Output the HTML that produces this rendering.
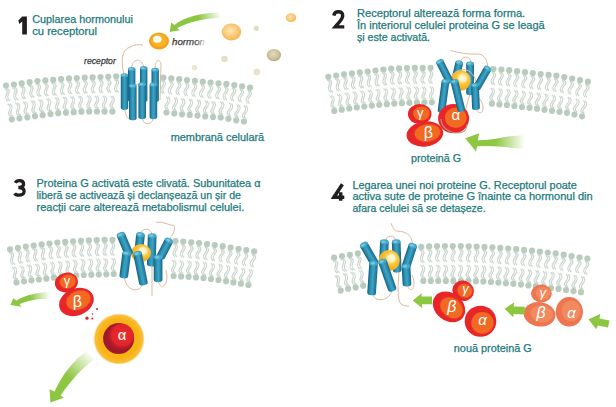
<!DOCTYPE html><html><head><meta charset="utf-8"><style>
html,body{margin:0;padding:0;background:#fff;width:616px;height:407px;overflow:hidden}
svg{display:block;font-family:"Liberation Sans",sans-serif}
</style></head><body>
<svg width="616" height="407" viewBox="0 0 616 407">
<defs>
<linearGradient id="cg" x1="0" x2="1" y1="0" y2="0">
<stop offset="0" stop-color="#15607f"/><stop offset="0.3" stop-color="#2b93b6"/><stop offset="0.55" stop-color="#3ea3c4"/><stop offset="1" stop-color="#17698a"/>
</linearGradient>
<radialGradient id="hg" cx="0.45" cy="0.4" r="0.6">
<stop offset="0" stop-color="#fff6c8"/><stop offset="0.45" stop-color="#f8c531"/><stop offset="1" stop-color="#eea313"/>
</radialGradient>
<radialGradient id="og" cx="0.6" cy="0.4" r="0.65" fx="0.6" fy="0.38">
<stop offset="0" stop-color="#fffdf0"/><stop offset="0.22" stop-color="#fff3c4"/><stop offset="0.45" stop-color="#fbc63a"/><stop offset="1" stop-color="#eea012"/>
</radialGradient>
<radialGradient id="pog" cx="0.45" cy="0.42" r="0.6">
<stop offset="0" stop-color="#fde7b5"/><stop offset="0.6" stop-color="#fac977"/><stop offset="1" stop-color="#f6b24e"/>
</radialGradient>
<radialGradient id="gbg" cx="0.45" cy="0.42" r="0.6">
<stop offset="0" stop-color="#e3dcc4"/><stop offset="0.6" stop-color="#cdc29f"/><stop offset="1" stop-color="#b3a57f"/>
</radialGradient>
<radialGradient id="glow" cx="0.5" cy="0.5" r="0.5">
<stop offset="0.75" stop-color="#f8b417"/><stop offset="0.92" stop-color="#f9be3a"/><stop offset="1" stop-color="#fde3a0" stop-opacity="0"/>
</radialGradient>
<linearGradient id="f1" gradientUnits="userSpaceOnUse" x1="172" y1="26" x2="221" y2="15">
<stop offset="0" stop-color="#8dc641"/><stop offset="0.55" stop-color="#8dc641"/><stop offset="1" stop-color="#8dc641" stop-opacity="0"/>
</linearGradient>
<linearGradient id="f2" gradientUnits="userSpaceOnUse" x1="466" y1="142" x2="525" y2="142">
<stop offset="0" stop-color="#8dc641"/><stop offset="0.5" stop-color="#8dc641"/><stop offset="1" stop-color="#8dc641" stop-opacity="0"/>
</linearGradient>
<linearGradient id="f3" gradientUnits="userSpaceOnUse" x1="11" y1="302" x2="50" y2="295">
<stop offset="0" stop-color="#8dc641"/><stop offset="0.5" stop-color="#8dc641"/><stop offset="1" stop-color="#8dc641" stop-opacity="0"/>
</linearGradient>
<linearGradient id="f4" gradientUnits="userSpaceOnUse" x1="52" y1="398" x2="92" y2="354">
<stop offset="0" stop-color="#8dc641"/><stop offset="0.45" stop-color="#8dc641"/><stop offset="1" stop-color="#8dc641" stop-opacity="0"/>
</linearGradient>
<radialGradient id="rg" cx="0.55" cy="0.45" r="0.5"><stop offset="0" stop-color="#f0582a"/><stop offset="0.3" stop-color="#e8292a"/><stop offset="0.82" stop-color="#e2242a"/><stop offset="1" stop-color="#c01f2b" stop-opacity="0.5"/></radialGradient>
<filter id="bl" x="-20%" y="-20%" width="140%" height="140%"><feGaussianBlur stdDeviation="0.6"/></filter>
</defs>

<path d="M4.6,88.7 C11.9,91.8 0.9,96.7 8.2,101.1 M6.6,88.4 C13.8,91.5 2.9,96.5 10.2,100.9 M12.5,87.7 C19.7,90.8 8.8,95.7 16.1,100.1 M14.5,87.4 C21.7,90.5 10.8,95.5 18.1,99.9 M20.4,86.7 C27.7,89.6 16.8,94.8 24.2,99.0 M22.4,86.4 C29.7,89.3 18.8,94.5 26.2,98.8 M28.3,85.4 C35.7,88.3 24.9,93.6 32.3,97.7 M30.3,85.1 C37.6,88.0 26.9,93.3 34.3,97.4 M36.0,84.1 C43.2,87.4 32.1,92.1 39.4,96.6 M38.0,83.9 C45.2,87.2 34.1,91.9 41.4,96.4 M43.8,83.5 C50.8,87.0 39.6,91.3 46.6,96.2 M45.8,83.4 C52.8,86.9 41.6,91.2 48.6,96.0 M51.7,83.0 C58.8,86.4 47.6,90.9 54.7,95.6 M53.7,82.8 C60.8,86.2 49.6,90.7 56.7,95.4 M59.6,82.3 C66.7,85.6 55.6,90.2 62.8,94.8 M61.6,82.1 C68.7,85.4 57.6,90.0 64.8,94.6 M67.4,81.5 C74.4,85.0 63.2,89.3 70.2,94.1 M69.4,81.4 C76.4,84.9 65.2,89.2 72.2,94.0 M75.2,81.1 C82.1,84.8 70.8,88.8 77.7,93.8 M77.2,81.0 C84.1,84.7 72.8,88.7 79.7,93.7 M83.0,80.8 C90.0,84.5 78.6,88.5 85.5,93.5 M85.0,80.7 C92.0,84.4 80.6,88.4 87.5,93.4 M90.9,80.5 C97.8,84.2 86.5,88.1 93.4,93.2 M92.9,80.4 C99.8,84.1 88.5,88.1 95.4,93.1 M98.8,80.2 C105.7,83.9 94.4,87.9 101.3,92.9 M100.8,80.1 C107.7,83.8 96.4,87.8 103.3,92.8 M106.7,79.8 C113.6,83.5 102.3,87.5 109.2,92.5 M108.7,79.8 C115.6,83.4 104.3,87.5 111.2,92.4 M114.4,79.4 C121.3,83.4 109.8,87.0 116.6,92.2 M116.4,79.4 C123.3,83.3 111.8,87.0 118.6,92.2 M161.4,80.6 C168.0,85.0 156.3,87.8 162.7,93.5 M163.4,80.7 C170.0,85.1 158.3,87.9 164.7,93.6 M169.2,81.3 C175.6,85.9 163.8,88.3 170.0,94.2 M171.2,81.4 C177.6,86.1 165.8,88.5 172.0,94.4 M177.1,82.0 C183.4,86.7 171.7,89.0 177.8,94.9 M179.1,82.2 C185.4,86.9 173.6,89.2 179.8,95.1 M184.9,82.8 C191.3,87.5 179.5,89.8 185.6,95.7 M186.9,83.0 C193.3,87.7 181.5,90.0 187.6,95.9 M192.8,83.6 C199.1,88.3 187.3,90.6 193.4,96.5 M194.8,83.8 C201.1,88.5 189.3,90.8 195.4,96.8 M200.6,84.5 C206.9,89.2 195.1,91.4 201.2,97.4 M202.6,84.7 C208.9,89.5 197.1,91.6 203.2,97.7 M208.6,85.4 C214.9,90.1 203.2,92.4 209.3,98.3 M210.6,85.6 C216.9,90.3 205.1,92.6 211.3,98.5 M216.5,86.1 C222.9,90.6 211.2,93.2 217.4,99.0 M218.5,86.3 C224.9,90.8 213.2,93.3 219.4,99.2 M224.2,86.7 C230.5,91.5 218.7,93.6 224.7,99.6 M226.2,86.9 C232.5,91.7 220.7,93.8 226.7,99.9 M232.0,87.8 C238.1,92.8 226.2,94.5 232.1,100.8 M234.0,88.1 C240.1,93.1 228.2,94.8 234.0,101.1 M239.9,89.0 C245.9,94.0 234.0,95.6 239.8,101.9 M241.8,89.3 C247.9,94.4 236.0,96.0 241.7,102.3 M247.7,90.3 C253.7,95.5 241.8,96.9 247.5,103.3 M249.7,90.7 C255.7,95.8 243.8,97.3 249.4,103.6 M13.2,116.1 C5.9,113.0 16.9,108.1 9.6,103.7 M11.2,116.4 C4.0,113.3 14.9,108.3 7.6,103.9 M20.9,115.1 C13.7,112.0 24.6,107.1 17.3,102.7 M19.0,115.4 C11.7,112.3 22.7,107.3 15.3,102.9 M28.7,114.1 C21.4,111.0 32.3,106.0 25.0,101.7 M26.7,114.3 C19.4,111.3 30.3,106.3 23.0,101.9 M36.4,113.0 C29.1,110.0 40.0,104.9 32.7,100.6 M34.4,113.3 C27.1,110.2 38.0,105.2 30.7,100.9 M44.1,111.9 C36.8,108.9 47.8,103.9 40.4,99.5 M42.1,112.2 C34.9,109.2 45.8,104.1 38.4,99.8 M51.9,110.9 C44.6,107.8 55.5,102.8 48.2,98.5 M49.9,111.2 C42.6,108.1 53.5,103.1 46.2,98.8 M59.8,110.1 C52.7,106.6 63.9,102.3 56.8,97.5 M57.8,110.3 C50.7,106.8 61.9,102.4 54.8,97.7 M67.6,109.6 C60.5,106.1 71.8,101.8 64.7,97.0 M65.6,109.7 C58.5,106.2 69.8,102.0 62.7,97.1 M75.3,109.1 C68.2,105.6 79.4,101.3 72.4,96.5 M73.3,109.2 C66.2,105.7 77.5,101.4 70.4,96.6 M83.0,108.6 C76.0,105.0 87.2,100.7 80.2,95.9 M81.0,108.7 C74.0,105.2 85.2,100.9 78.2,96.1 M91.0,108.4 C84.2,104.4 95.7,101.0 89.1,95.6 M89.0,108.4 C82.2,104.4 93.7,101.0 87.1,95.6 M98.7,108.5 C92.0,104.5 103.5,101.0 96.8,95.7 M96.7,108.5 C90.0,104.4 101.5,101.0 94.8,95.7 M106.5,108.6 C99.7,104.5 111.2,101.1 104.6,95.7 M104.5,108.5 C97.7,104.5 109.2,101.1 102.6,95.7 M114.2,108.6 C107.4,104.6 119.0,101.2 112.3,95.8 M112.2,108.6 C105.4,104.6 117.0,101.1 110.3,95.8 M168.7,109.7 C162.4,104.9 174.3,102.9 168.3,96.8 M166.7,109.5 C160.4,104.7 172.3,102.6 166.3,96.5 M176.4,110.7 C170.2,105.9 182.0,103.8 176.0,97.7 M174.4,110.4 C168.2,105.6 180.0,103.6 174.0,97.5 M184.1,111.4 C177.6,106.9 189.4,104.4 183.1,98.5 M182.1,111.3 C175.6,106.7 187.4,104.2 181.1,98.3 M191.8,112.0 C185.3,107.5 197.1,104.9 190.8,99.1 M189.8,111.9 C183.3,107.4 195.1,104.8 188.8,99.0 M199.6,112.8 C193.2,108.1 205.0,105.8 198.9,99.8 M197.6,112.6 C191.2,107.9 203.0,105.6 196.9,99.6 M207.3,113.6 C201.0,108.9 212.8,106.6 206.7,100.7 M205.3,113.4 C199.0,108.7 210.8,106.4 204.7,100.4 M214.9,114.2 C208.4,109.8 220.0,107.0 213.6,101.3 M212.9,114.1 C206.4,109.7 218.0,106.8 211.6,101.2 M222.8,114.6 C216.5,109.9 228.3,107.6 222.2,101.7 M220.8,114.4 C214.5,109.7 226.3,107.4 220.2,101.4 M230.8,116.2 C224.9,111.0 236.8,109.8 231.3,103.3 M228.8,115.8 C222.9,110.6 234.9,109.4 229.3,102.9 M238.4,117.7 C232.4,112.6 244.3,111.1 238.6,104.7 M236.5,117.3 C230.5,112.3 242.4,110.8 236.7,104.4 M246.1,118.8 C240.0,113.8 251.9,112.1 246.0,105.8 M244.1,118.5 C238.0,113.5 249.9,111.8 244.1,105.5" fill="none" stroke="#cad7cd" stroke-width="1.25" stroke-linejoin="round"/>
<g fill="#b9cbbd"><circle cx="6.0" cy="85.5" r="3.1"/><circle cx="13.9" cy="84.5" r="3.1"/><circle cx="21.7" cy="83.4" r="3.1"/><circle cx="29.6" cy="82.2" r="3.1"/><circle cx="37.5" cy="81.0" r="3.1"/><circle cx="45.4" cy="80.4" r="3.1"/><circle cx="53.2" cy="79.9" r="3.1"/><circle cx="61.1" cy="79.1" r="3.1"/><circle cx="69.0" cy="78.4" r="3.1"/><circle cx="76.8" cy="78.0" r="3.1"/><circle cx="84.7" cy="77.7" r="3.1"/><circle cx="92.6" cy="77.4" r="3.1"/><circle cx="100.5" cy="77.1" r="3.1"/><circle cx="108.3" cy="76.8" r="3.1"/><circle cx="116.2" cy="76.4" r="3.1"/><circle cx="163.4" cy="77.7" r="3.1"/><circle cx="171.3" cy="78.4" r="3.1"/><circle cx="179.2" cy="79.2" r="3.1"/><circle cx="187.0" cy="80.0" r="3.1"/><circle cx="194.9" cy="80.8" r="3.1"/><circle cx="202.8" cy="81.7" r="3.1"/><circle cx="210.6" cy="82.6" r="3.1"/><circle cx="218.5" cy="83.3" r="3.1"/><circle cx="226.4" cy="83.9" r="3.1"/><circle cx="234.3" cy="85.1" r="3.1"/><circle cx="242.1" cy="86.3" r="3.1"/><circle cx="250.0" cy="87.7" r="3.1"/><circle cx="11.8" cy="119.3" r="3.1"/><circle cx="19.5" cy="118.3" r="3.1"/><circle cx="27.3" cy="117.3" r="3.1"/><circle cx="35.0" cy="116.2" r="3.1"/><circle cx="42.7" cy="115.2" r="3.1"/><circle cx="50.5" cy="114.1" r="3.1"/><circle cx="58.2" cy="113.2" r="3.1"/><circle cx="66.0" cy="112.7" r="3.1"/><circle cx="73.7" cy="112.2" r="3.1"/><circle cx="81.4" cy="111.7" r="3.1"/><circle cx="89.2" cy="111.4" r="3.1"/><circle cx="96.9" cy="111.5" r="3.1"/><circle cx="104.6" cy="111.6" r="3.1"/><circle cx="112.4" cy="111.6" r="3.1"/><circle cx="166.5" cy="112.5" r="3.1"/><circle cx="174.3" cy="113.4" r="3.1"/><circle cx="182.0" cy="114.3" r="3.1"/><circle cx="189.7" cy="114.9" r="3.1"/><circle cx="197.5" cy="115.6" r="3.1"/><circle cx="205.2" cy="116.4" r="3.1"/><circle cx="213.0" cy="117.1" r="3.1"/><circle cx="220.7" cy="117.4" r="3.1"/><circle cx="228.4" cy="118.8" r="3.1"/><circle cx="236.2" cy="120.3" r="3.1"/><circle cx="243.9" cy="121.5" r="3.1"/></g>
<path d="M124,75 C121,62 121,50 130,47 C134,45 139,44 143,45" fill="none" stroke="#dfb99f" stroke-width="1"/>
<path d="M131.7,69 C131,58 143,57 143.7,68" fill="none" stroke="#dfb99f" stroke-width="1"/>
<path d="M155.2,70 C154,60 160,58 161,64 L160,100" fill="none" stroke="#dfb99f" stroke-width="1"/>
<path d="M124.5,107 C125,117 130,122 132.8,118" fill="none" stroke="#dfb99f" stroke-width="1"/>
<path d="M142.2,117 C142,126 153,126 153.4,117" fill="none" stroke="#dfb99f" stroke-width="1"/>
<g transform="translate(124.5,75.3) rotate(-0.0)"><path d="M-3.70,0 L-3.70,32.4 A3.70,2.07 0 0 0 3.70,32.4 L3.70,0 Z" fill="url(#cg)"/><ellipse cx="0" cy="0" rx="3.70" ry="2.07" fill="#45a9c9"/><ellipse cx="-0.8" cy="0" rx="1.85" ry="1.04" fill="#7cc6de"/></g>
<g transform="translate(131.7,69.0) rotate(-0.0)"><path d="M-3.70,0 L-3.70,31.0 A3.70,2.07 0 0 0 3.70,31.0 L3.70,0 Z" fill="url(#cg)"/><ellipse cx="0" cy="0" rx="3.70" ry="2.07" fill="#45a9c9"/><ellipse cx="-0.8" cy="0" rx="1.85" ry="1.04" fill="#7cc6de"/></g>
<g transform="translate(143.7,68.0) rotate(-0.0)"><path d="M-3.70,0 L-3.70,32.0 A3.70,2.07 0 0 0 3.70,32.0 L3.70,0 Z" fill="url(#cg)"/><ellipse cx="0" cy="0" rx="3.70" ry="2.07" fill="#45a9c9"/><ellipse cx="-0.8" cy="0" rx="1.85" ry="1.04" fill="#7cc6de"/></g>
<g transform="translate(155.2,69.7) rotate(-0.0)"><path d="M-3.70,0 L-3.70,30.3 A3.70,2.07 0 0 0 3.70,30.3 L3.70,0 Z" fill="url(#cg)"/><ellipse cx="0" cy="0" rx="3.70" ry="2.07" fill="#45a9c9"/><ellipse cx="-0.8" cy="0" rx="1.85" ry="1.04" fill="#7cc6de"/></g>
<path d="M132.8,90 C134,83 141,82 142.2,88" fill="none" stroke="#dfb99f" stroke-width="1"/>
<g transform="translate(132.8,85.8) rotate(-0.0)"><path d="M-3.80,0 L-3.80,32.4 A3.80,2.13 0 0 0 3.80,32.4 L3.80,0 Z" fill="url(#cg)"/><ellipse cx="0" cy="0" rx="3.80" ry="2.13" fill="#45a9c9"/><ellipse cx="-0.8" cy="0" rx="1.90" ry="1.06" fill="#7cc6de"/></g>
<g transform="translate(142.2,84.3) rotate(-0.0)"><path d="M-3.80,0 L-3.80,32.8 A3.80,2.13 0 0 0 3.80,32.8 L3.80,0 Z" fill="url(#cg)"/><ellipse cx="0" cy="0" rx="3.80" ry="2.13" fill="#45a9c9"/><ellipse cx="-0.8" cy="0" rx="1.90" ry="1.06" fill="#7cc6de"/></g>
<g transform="translate(153.4,84.7) rotate(-0.0)"><path d="M-3.80,0 L-3.80,32.4 A3.80,2.13 0 0 0 3.80,32.4 L3.80,0 Z" fill="url(#cg)"/><ellipse cx="0" cy="0" rx="3.80" ry="2.13" fill="#45a9c9"/><ellipse cx="-0.8" cy="0" rx="1.90" ry="1.06" fill="#7cc6de"/></g>
<ellipse cx="159" cy="41" rx="10" ry="8.6" fill="#f2a21a"/>
<ellipse cx="159" cy="40.5" rx="7.8" ry="6.5" fill="#f9b424" filter="url(#bl)"/>
<ellipse cx="157.3" cy="39.2" rx="4.3" ry="3.5" fill="#fffef5" filter="url(#bl)"/>
<ellipse cx="231.4" cy="32" rx="9.8" ry="8.4" fill="url(#pog)"/>
<ellipse cx="291" cy="17.7" rx="5.2" ry="4.4" fill="url(#pog)"/>
<circle cx="256.3" cy="28.4" r="2.6" fill="#e2dac3"/>
<ellipse cx="273.9" cy="55.1" rx="7.2" ry="6.2" fill="url(#gbg)"/>
<circle cx="224.5" cy="59" r="3.3" fill="#e6dec6"/>
<circle cx="194.5" cy="67.6" r="2.6" fill="#ece3cc"/>
<circle cx="256.8" cy="72" r="3.3" fill="#ebe1c8"/>
<path d="M169.7,31.9 L171.2,22.4 L174.4,24.9 C184,17.2 200,12.8 221,12.4 L221,17.9 C203,18.2 189,22 177.2,28.0 L179.6,30.2 Z" fill="url(#f1)"/>
<path d="M22.2,16.5 L26.9,16.5 L26.9,34.4 L22.2,34.4 L22.2,21.6 L19.3,24 L18.3,20.6 Z" fill="#231f20"/>
<text x="32.2" y="22.6" font-size="10.7" fill="#217a7c" font-weight="normal" font-style="normal" text-anchor="start" textLength="100.8" lengthAdjust="spacingAndGlyphs" stroke="#217a7c" stroke-width="0.25">Cuplarea hormonului</text>
<text x="32.2" y="34.6" font-size="10.7" fill="#217a7c" font-weight="normal" font-style="normal" text-anchor="start" textLength="64.8" lengthAdjust="spacingAndGlyphs" stroke="#217a7c" stroke-width="0.25">cu receptorul</text>
<text x="84.1" y="64.1" font-size="9.8" fill="#333" font-weight="normal" font-style="italic" text-anchor="start" textLength="31.7" lengthAdjust="spacingAndGlyphs" stroke="#333" stroke-width="0.25">receptor</text>
<text x="172" y="45" font-size="9.8" font-style="italic" fill="url(#hf)" stroke="url(#hf)" stroke-width="0.25" textLength="33" lengthAdjust="spacingAndGlyphs">hormon</text>
<defs><linearGradient id="hf" gradientUnits="userSpaceOnUse" x1="172" x2="206" y1="0" y2="0"><stop offset="0" stop-color="#333"/><stop offset="0.7" stop-color="#444"/><stop offset="1" stop-color="#444" stop-opacity="0"/></linearGradient></defs>
<text x="170.7" y="140.8" font-size="10.7" fill="#217a7c" font-weight="normal" font-style="normal" text-anchor="start" textLength="93.5" lengthAdjust="spacingAndGlyphs" stroke="#217a7c" stroke-width="0.25">membrană celulară</text>
<path d="M327.0,80.0 C334.3,82.9 323.5,88.2 331.0,92.4 M329.0,79.7 C336.3,82.6 325.5,87.9 333.0,92.1 M334.9,78.8 C342.2,81.7 331.4,86.9 338.8,91.1 M336.8,78.5 C344.2,81.4 333.4,86.6 340.8,90.8 M342.7,77.5 C349.9,80.5 339.0,85.6 346.4,89.9 M344.6,77.2 C351.9,80.3 341.0,85.3 348.4,89.6 M350.5,76.6 C357.7,79.7 346.7,84.6 354.0,89.0 M352.5,76.3 C359.7,79.5 348.7,84.3 355.9,88.8 M358.3,75.6 C365.6,78.8 354.6,83.6 361.8,88.1 M360.3,75.4 C367.5,78.5 356.5,83.4 363.8,87.9 M366.2,74.7 C373.4,77.8 362.4,82.7 369.7,87.1 M368.2,74.4 C375.4,77.6 364.4,82.4 371.7,86.9 M374.1,73.7 C381.3,76.9 370.3,81.7 377.5,86.2 M376.0,73.5 C383.3,76.7 372.3,81.5 379.5,86.0 M381.9,72.8 C389.1,76.0 378.1,80.8 385.3,85.3 M383.9,72.6 C391.1,75.8 380.1,80.6 387.3,85.1 M389.7,71.9 C396.8,75.3 385.6,79.7 392.7,84.5 M391.7,71.7 C398.8,75.1 387.6,79.6 394.7,84.3 M397.4,71.4 C404.4,75.1 393.1,79.1 400.0,84.1 M399.4,71.4 C406.4,75.1 395.1,79.1 402.0,84.1 M405.3,71.1 C412.2,74.9 400.8,78.7 407.6,83.8 M407.3,71.0 C414.2,74.8 402.8,78.6 409.6,83.8 M413.1,71.0 C419.9,74.9 408.4,78.5 415.2,83.7 M415.1,70.9 C421.9,74.9 410.4,78.5 417.2,83.7 M420.9,70.9 C427.8,74.8 416.3,78.4 423.0,83.7 M422.9,70.9 C429.8,74.8 418.3,78.4 425.0,83.7 M428.8,70.8 C435.5,74.8 424.0,78.3 430.7,83.6 M430.8,70.8 C437.5,74.8 426.0,78.3 432.7,83.6 M491.6,71.9 C498.2,76.2 486.5,79.2 493.0,84.8 M493.6,72.0 C500.2,76.3 488.5,79.3 495.0,84.9 M499.3,72.4 C505.8,77.0 494.0,79.5 500.3,85.3 M501.3,72.6 C507.8,77.1 496.0,79.7 502.3,85.5 M507.1,73.0 C513.5,77.7 501.7,80.0 507.9,86.0 M509.1,73.2 C515.5,77.9 503.7,80.2 509.9,86.2 M514.9,73.9 C521.2,78.8 509.3,80.8 515.3,86.9 M516.9,74.2 C523.2,79.0 511.3,81.0 517.3,87.1 M522.8,75.0 C529.1,79.7 517.3,81.8 523.3,87.9 M524.8,75.2 C531.1,80.0 519.2,82.1 525.2,88.1 M530.7,75.9 C537.0,80.6 525.2,82.8 531.3,88.8 M532.7,76.1 C539.0,80.8 527.2,83.0 533.3,89.0 M538.6,76.7 C544.9,81.5 533.1,83.7 539.1,89.7 M540.6,77.0 C546.9,81.7 535.1,83.9 541.1,89.9 M546.4,77.6 C552.8,82.4 540.9,84.6 547.0,90.6 M548.4,77.9 C554.7,82.6 542.9,84.8 549.0,90.8 M554.2,78.5 C560.4,83.4 548.5,85.2 554.4,91.4 M556.2,78.7 C562.4,83.6 550.5,85.5 556.4,91.7 M562.0,79.7 C568.0,84.9 556.1,86.3 561.7,92.7 M564.0,80.1 C570.0,85.2 558.0,86.6 563.7,93.0 M569.8,81.1 C575.8,86.3 563.8,87.6 569.4,94.1 M571.8,81.5 C577.7,86.7 565.8,88.0 571.4,94.4 M577.7,82.7 C583.5,88.0 571.6,89.1 577.1,95.6 M579.6,83.1 C585.5,88.4 573.5,89.5 579.0,96.0 M585.5,84.3 C591.4,89.6 579.4,90.7 584.9,97.2 M587.5,84.7 C593.4,90.0 581.4,91.1 586.9,97.6 M335.6,107.6 C328.2,104.8 339.0,99.5 331.5,95.3 M333.6,108.0 C326.3,105.1 337.0,99.8 329.5,95.7 M343.1,106.4 C335.7,103.6 346.5,98.2 339.0,94.1 M341.1,106.7 C333.8,103.9 344.5,98.6 337.1,94.4 M350.7,105.2 C343.3,102.2 354.2,97.1 346.8,92.8 M348.7,105.5 C341.4,102.5 352.2,97.4 344.8,93.1 M358.2,104.2 C351.0,101.1 361.9,96.2 354.6,91.8 M356.2,104.5 C349.0,101.4 359.9,96.4 352.6,92.1 M365.7,103.3 C358.5,100.1 369.5,95.3 362.2,90.8 M363.8,103.5 C356.5,100.4 367.5,95.5 360.2,91.0 M373.3,102.4 C366.1,99.2 377.1,94.4 369.8,89.9 M371.3,102.6 C364.1,99.4 375.1,94.6 367.8,90.2 M380.8,101.6 C373.7,98.2 384.8,93.7 377.7,89.0 M378.9,101.8 C371.7,98.4 382.8,93.9 375.7,89.2 M388.4,101.0 C381.3,97.6 392.5,93.2 385.4,88.4 M386.4,101.2 C379.3,97.7 390.5,93.3 383.4,88.6 M396.0,100.5 C388.9,96.9 400.2,92.7 393.1,87.8 M394.0,100.6 C386.9,97.0 398.2,92.8 391.1,88.0 M403.5,100.1 C396.5,96.5 407.8,92.4 400.8,87.4 M401.5,100.2 C394.5,96.6 405.8,92.5 398.8,87.5 M411.0,99.7 C404.1,96.0 415.5,92.1 408.6,87.0 M409.0,99.8 C402.1,96.1 413.5,92.1 406.6,87.1 M418.6,99.6 C411.7,95.7 423.1,92.0 416.3,86.8 M416.6,99.6 C409.7,95.8 421.1,92.0 414.3,86.9 M426.1,99.4 C419.2,95.6 430.6,91.8 423.8,86.7 M424.1,99.5 C417.2,95.6 428.6,91.9 421.8,86.7 M433.7,99.3 C426.9,95.3 438.4,91.8 431.7,86.5 M431.7,99.3 C424.9,95.3 436.4,91.8 429.7,86.5 M493.9,100.8 C487.3,96.4 499.0,93.6 492.6,87.9 M491.9,100.7 C485.3,96.3 497.0,93.5 490.6,87.8 M501.5,101.5 C495.1,97.0 506.8,94.5 500.6,88.6 M499.5,101.4 C493.1,96.8 504.8,94.3 498.6,88.4 M509.1,102.2 C502.7,97.5 514.5,95.3 508.5,89.3 M507.1,102.0 C500.7,97.3 512.6,95.1 506.5,89.1 M516.6,103.3 C510.4,98.4 522.3,96.4 516.3,90.3 M514.6,103.0 C508.4,98.2 520.3,96.2 514.3,90.1 M524.1,104.2 C517.8,99.4 529.7,97.4 523.7,91.3 M522.1,104.0 C515.8,99.2 527.7,97.1 521.7,91.0 M531.6,105.1 C525.3,100.3 537.1,98.1 531.0,92.1 M529.6,104.8 C523.3,100.1 535.1,97.9 529.0,91.9 M539.1,105.9 C532.9,101.1 544.7,99.1 538.8,93.0 M537.1,105.7 C530.9,100.8 542.8,98.8 536.8,92.7 M546.7,107.0 C540.5,102.1 552.4,100.3 546.5,94.1 M544.7,106.8 C538.5,101.8 550.4,100.0 544.6,93.8 M554.2,108.1 C548.0,103.2 559.8,101.3 553.9,95.2 M552.2,107.8 C546.0,102.9 557.9,101.0 552.0,94.9 M561.7,109.1 C555.4,104.2 567.3,102.3 561.3,96.1 M559.7,108.8 C553.5,104.0 565.3,102.0 559.4,95.9 M569.3,110.2 C563.3,105.0 575.3,103.7 569.6,97.2 M567.3,109.8 C561.4,104.7 573.3,103.3 567.7,96.9 M576.9,112.0 C571.2,106.6 583.2,105.8 577.9,99.1 M575.0,111.6 C569.3,106.2 581.2,105.3 575.9,98.7 M584.4,113.8 C578.7,108.4 590.7,107.5 585.4,100.9 M582.5,113.3 C576.8,107.9 588.8,107.1 583.4,100.4" fill="none" stroke="#cad7cd" stroke-width="1.25" stroke-linejoin="round"/>
<g fill="#b9cbbd"><circle cx="328.3" cy="76.8" r="3.1"/><circle cx="336.2" cy="75.5" r="3.1"/><circle cx="344.0" cy="74.3" r="3.1"/><circle cx="351.9" cy="73.4" r="3.1"/><circle cx="359.8" cy="72.4" r="3.1"/><circle cx="367.6" cy="71.5" r="3.1"/><circle cx="375.5" cy="70.5" r="3.1"/><circle cx="383.4" cy="69.6" r="3.1"/><circle cx="391.2" cy="68.7" r="3.1"/><circle cx="399.1" cy="68.4" r="3.1"/><circle cx="407.0" cy="68.0" r="3.1"/><circle cx="414.8" cy="67.9" r="3.1"/><circle cx="422.7" cy="67.9" r="3.1"/><circle cx="430.6" cy="67.8" r="3.1"/><circle cx="493.5" cy="69.0" r="3.1"/><circle cx="501.4" cy="69.6" r="3.1"/><circle cx="509.2" cy="70.2" r="3.1"/><circle cx="517.1" cy="71.2" r="3.1"/><circle cx="525.0" cy="72.2" r="3.1"/><circle cx="532.8" cy="73.1" r="3.1"/><circle cx="540.7" cy="74.0" r="3.1"/><circle cx="548.6" cy="74.9" r="3.1"/><circle cx="556.4" cy="75.7" r="3.1"/><circle cx="564.3" cy="77.1" r="3.1"/><circle cx="572.2" cy="78.5" r="3.1"/><circle cx="580.0" cy="80.1" r="3.1"/><circle cx="587.9" cy="81.7" r="3.1"/><circle cx="334.3" cy="110.9" r="3.1"/><circle cx="341.8" cy="109.7" r="3.1"/><circle cx="349.3" cy="108.4" r="3.1"/><circle cx="356.8" cy="107.4" r="3.1"/><circle cx="364.3" cy="106.5" r="3.1"/><circle cx="371.8" cy="105.6" r="3.1"/><circle cx="379.3" cy="104.8" r="3.1"/><circle cx="386.8" cy="104.2" r="3.1"/><circle cx="394.3" cy="103.6" r="3.1"/><circle cx="401.9" cy="103.2" r="3.1"/><circle cx="409.4" cy="102.8" r="3.1"/><circle cx="416.9" cy="102.6" r="3.1"/><circle cx="424.4" cy="102.5" r="3.1"/><circle cx="431.9" cy="102.3" r="3.1"/><circle cx="491.9" cy="103.7" r="3.1"/><circle cx="499.4" cy="104.4" r="3.1"/><circle cx="506.9" cy="105.0" r="3.1"/><circle cx="514.4" cy="106.0" r="3.1"/><circle cx="522.0" cy="107.0" r="3.1"/><circle cx="529.5" cy="107.8" r="3.1"/><circle cx="537.0" cy="108.7" r="3.1"/><circle cx="544.5" cy="109.8" r="3.1"/><circle cx="552.0" cy="110.8" r="3.1"/><circle cx="559.5" cy="111.8" r="3.1"/><circle cx="567.0" cy="112.8" r="3.1"/><circle cx="574.5" cy="114.6" r="3.1"/><circle cx="582.0" cy="116.3" r="3.1"/></g>
<path d="M450.3,50.4 C458,53 470,54.5 479,54.1 C484,55 487.5,59 487.7,68" fill="none" stroke="#dfb99f" stroke-width="1"/>
<path d="M460.7,62 C461,56 470,55 471.1,62" fill="none" stroke="#dfb99f" stroke-width="1"/>
<path d="M476,107 C477,114 483,115 483,108 C483,103 481,100 478,97" fill="none" stroke="#dfb99f" stroke-width="1"/>
<path d="M470,94 C468,101 466,107 465,113" fill="none" stroke="#dfb99f" stroke-width="1"/>
<g transform="translate(470.1,63.6) rotate(-0.0)"><path d="M-3.90,0 L-3.90,29.4 A3.90,2.18 0 0 0 3.90,29.4 L3.90,0 Z" fill="url(#cg)"/><ellipse cx="0" cy="0" rx="3.90" ry="2.18" fill="#45a9c9"/><ellipse cx="-0.8" cy="0" rx="1.95" ry="1.09" fill="#7cc6de"/></g>
<g transform="translate(459.3,62.6) rotate(13.1)"><path d="M-3.90,0 L-3.90,17.1 A3.90,2.18 0 0 0 3.90,17.1 L3.90,0 Z" fill="url(#cg)"/><ellipse cx="0" cy="0" rx="3.90" ry="2.18" fill="#45a9c9"/><ellipse cx="-0.8" cy="0" rx="1.95" ry="1.09" fill="#7cc6de"/></g>
<circle cx="460.5" cy="80.5" r="10.2" fill="url(#og)"/>
<path d="M452,77 C455,68 471,65 476,81" fill="none" stroke="#dfb99f" stroke-width="1"/>
<g transform="translate(439.6,61.6) rotate(-26.7)"><path d="M-3.90,0 L-3.90,22.0 A3.90,2.18 0 0 0 3.90,22.0 L3.90,0 Z" fill="url(#cg)"/><ellipse cx="0" cy="0" rx="3.90" ry="2.18" fill="#45a9c9"/><ellipse cx="-0.8" cy="0" rx="1.95" ry="1.09" fill="#7cc6de"/></g>
<g transform="translate(445.5,81.3) rotate(7.6)"><path d="M-3.90,0 L-3.90,29.7 A3.90,2.18 0 0 0 3.90,29.7 L3.90,0 Z" fill="url(#cg)"/><ellipse cx="0" cy="0" rx="3.90" ry="2.18" fill="#45a9c9"/><ellipse cx="-0.8" cy="0" rx="1.95" ry="1.09" fill="#7cc6de"/></g>
<g transform="translate(487.8,68.5) rotate(30.0)"><path d="M-3.90,0 L-3.90,21.6 A3.90,2.18 0 0 0 3.90,21.6 L3.90,0 Z" fill="url(#cg)"/><ellipse cx="0" cy="0" rx="3.90" ry="2.18" fill="#45a9c9"/><ellipse cx="-0.8" cy="0" rx="1.95" ry="1.09" fill="#7cc6de"/></g>
<g transform="translate(475.0,85.2) rotate(-2.5)"><path d="M-3.90,0 L-3.90,22.6 A3.90,2.18 0 0 0 3.90,22.6 L3.90,0 Z" fill="url(#cg)"/><ellipse cx="0" cy="0" rx="3.90" ry="2.18" fill="#45a9c9"/><ellipse cx="-0.8" cy="0" rx="1.95" ry="1.09" fill="#7cc6de"/></g>
<g transform="translate(419.7,114.1) rotate(0)"><ellipse cx="0" cy="0" rx="11.8" ry="10" fill="#e8262a"/><ellipse cx="1.7" cy="-0.6" rx="8.3" ry="7.0" fill="#f26b22" filter="url(#bl)"/></g>
<text x="416.9" y="117.0" font-size="13.0" font-style="normal" fill="#fff">γ</text>
<g transform="translate(424.9,134) rotate(-8)"><ellipse cx="0" cy="0" rx="18.4" ry="12.5" fill="#e8262a"/><ellipse cx="2.6" cy="-0.8" rx="12.9" ry="8.8" fill="#f26b22" filter="url(#bl)"/></g>
<text x="423.7" y="137.7" font-size="16.0" font-style="normal" fill="#fff">β</text>
<g transform="translate(453.6,118.6) rotate(0)"><ellipse cx="0" cy="0" rx="15.5" ry="14.7" fill="#e8262a"/><ellipse cx="2.2" cy="-0.9" rx="10.8" ry="10.3" fill="#f26b22" filter="url(#bl)"/></g>
<text x="451.6" y="120.4" font-size="15.0" font-style="normal" fill="#fff">α</text>
<path d="M441,119 C441,128 450,133 458,133 C463,133 467,130 467,124" fill="none" stroke="#b79a86" stroke-width="1.1"/>
<g transform="translate(454.4,81.3) rotate(-13.7)"><path d="M-3.90,0 L-3.90,29.2 A3.90,2.18 0 0 0 3.90,29.2 L3.90,0 Z" fill="url(#cg)"/><ellipse cx="0" cy="0" rx="3.90" ry="2.18" fill="#45a9c9"/><ellipse cx="-0.8" cy="0" rx="1.95" ry="1.09" fill="#7cc6de"/></g>
<path d="M465.2,138.3 L479.2,133.2 L477.8,140.2 C486,140 494,139.6 502,137.6 C510,135.8 518,135.4 525,135.6 L525,148.4 C518,148.4 510,147.6 502,146.8 C494,146 486,146 477.2,146.2 L476,151.4 Z" fill="url(#f2)"/>
<path d="M333.8,15.6 C334.3,12.6 336.6,11.8 338.4,11.8 C341.3,11.8 342.7,13.6 342.7,15.9 C342.7,18.7 340.2,21 335.2,26.9 L344.3,26.9" fill="none" stroke="#231f20" stroke-width="3.4"/>
<text x="357" y="16.6" font-size="10.7" fill="#217a7c" font-weight="normal" font-style="normal" text-anchor="start" textLength="168.2" lengthAdjust="spacingAndGlyphs" stroke="#217a7c" stroke-width="0.25">Receptorul alterează forma forma.</text>
<text x="357" y="28.7" font-size="10.7" fill="#217a7c" font-weight="normal" font-style="normal" text-anchor="start" textLength="187.7" lengthAdjust="spacingAndGlyphs" stroke="#217a7c" stroke-width="0.25">În interiorul celulei proteina G se leagă</text>
<text x="357" y="40.9" font-size="10.7" fill="#217a7c" font-weight="normal" font-style="normal" text-anchor="start" textLength="73" lengthAdjust="spacingAndGlyphs" stroke="#217a7c" stroke-width="0.25">și este activată.</text>
<text x="411" y="161.9" font-size="10.7" fill="#217a7c" font-weight="normal" font-style="normal" text-anchor="start" textLength="50" lengthAdjust="spacingAndGlyphs" stroke="#217a7c" stroke-width="0.25">proteină G</text>
<path d="M8.9,252.6 C16.3,255.3 5.6,260.8 13.1,264.8 M10.8,252.2 C18.2,255.0 7.5,260.4 15.1,264.5 M16.7,251.2 C24.1,253.9 13.4,259.4 21.0,263.4 M18.7,250.8 C26.1,253.5 15.4,259.0 22.9,263.0 M24.5,249.7 C31.9,252.6 21.0,257.8 28.5,262.1 M26.5,249.4 C33.8,252.3 23.0,257.5 30.4,261.8 M32.3,248.7 C39.6,251.7 28.6,256.7 36.0,261.1 M34.3,248.4 C41.6,251.5 30.6,256.4 37.9,260.8 M40.2,247.6 C47.4,250.7 36.5,255.7 43.8,260.1 M42.2,247.4 C49.4,250.5 38.4,255.4 45.8,259.8 M48.0,246.7 C55.3,249.8 44.3,254.7 51.6,259.1 M50.0,246.4 C57.3,249.6 46.3,254.4 53.6,258.9 M55.9,245.7 C63.0,249.0 51.9,253.6 59.1,258.2 M57.8,245.5 C65.0,248.8 53.9,253.4 61.1,258.0 M63.7,245.0 C70.7,248.5 59.5,252.9 66.6,257.6 M65.6,244.9 C72.7,248.4 61.5,252.7 68.6,257.5 M71.5,244.4 C78.5,248.0 67.3,252.2 74.3,257.1 M73.5,244.3 C80.5,247.8 69.3,252.1 76.3,256.9 M79.3,244.0 C86.4,247.6 75.1,251.7 82.1,256.6 M81.3,243.8 C88.4,247.4 77.1,251.6 84.1,256.5 M87.2,243.5 C94.2,247.2 82.8,251.2 89.8,256.2 M89.2,243.4 C96.2,247.1 84.8,251.1 91.8,256.1 M95.0,243.2 C102.0,246.9 90.6,250.8 97.5,255.9 M97.0,243.1 C104.0,246.8 92.6,250.8 99.5,255.8 M102.9,242.8 C109.7,246.7 98.3,250.4 105.1,255.6 M104.9,242.8 C111.7,246.7 100.3,250.4 107.1,255.6 M110.6,242.8 C117.4,246.8 105.9,250.2 112.5,255.6 M112.6,242.8 C119.4,246.9 107.9,250.3 114.5,255.6 M173.5,243.9 C180.1,248.2 168.5,251.2 174.9,256.8 M175.5,244.0 C182.1,248.3 170.5,251.3 176.9,256.9 M181.3,244.4 C187.7,249.0 176.0,251.5 182.2,257.4 M183.3,244.6 C189.7,249.2 178.0,251.7 184.2,257.5 M189.1,245.1 C195.5,249.7 183.7,252.1 189.9,258.0 M191.1,245.3 C197.5,249.9 185.7,252.3 191.9,258.2 M197.0,245.9 C203.3,250.6 191.5,252.8 197.6,258.8 M199.0,246.1 C205.3,250.8 193.5,253.0 199.6,259.0 M204.8,246.7 C211.1,251.5 199.2,253.6 205.2,259.7 M206.8,247.0 C213.0,251.8 201.2,253.8 207.2,259.9 M212.6,247.8 C218.8,252.7 206.9,254.5 212.8,260.7 M214.6,248.0 C220.8,253.0 208.9,254.8 214.8,261.0 M220.5,248.9 C226.6,253.8 214.7,255.6 220.5,261.8 M222.4,249.2 C228.6,254.1 216.7,255.9 222.5,262.1 M228.3,250.1 C234.4,255.2 222.4,256.8 228.2,263.1 M230.3,250.5 C236.3,255.5 224.4,257.1 230.1,263.4 M236.2,251.4 C242.2,256.5 230.3,258.1 236.1,264.4 M238.2,251.8 C244.2,256.8 232.3,258.4 238.0,264.7 M244.1,252.8 C250.1,257.8 238.2,259.4 243.9,265.7 M246.0,253.1 C252.1,258.1 240.2,259.7 245.9,266.0 M251.9,254.1 C258.0,259.1 246.1,260.7 251.8,267.0 M253.9,254.4 C260.0,259.5 248.0,261.0 253.8,267.3 M17.9,279.2 C10.6,276.2 21.4,271.1 14.1,266.8 M15.9,279.5 C8.6,276.5 19.5,271.4 12.1,267.1 M25.3,278.1 C18.0,275.1 28.9,270.0 21.5,265.7 M23.4,278.4 C16.1,275.4 27.0,270.3 19.6,266.0 M32.9,277.1 C25.6,273.9 36.6,269.1 29.3,264.6 M30.9,277.3 C23.7,274.2 34.6,269.3 27.3,264.9 M40.4,276.3 C33.2,273.0 44.3,268.4 37.1,263.8 M38.4,276.5 C31.2,273.3 42.3,268.6 35.1,264.0 M47.8,275.5 C40.6,272.3 51.6,267.4 44.3,263.0 M45.9,275.7 C38.6,272.6 49.6,267.7 42.3,263.3 M55.4,274.5 C48.2,271.3 59.2,266.6 52.0,262.0 M53.4,274.7 C46.2,271.5 57.3,266.8 50.0,262.2 M62.9,273.9 C55.8,270.5 66.9,266.0 59.7,261.3 M60.9,274.0 C53.8,270.7 64.9,266.1 57.8,261.5 M70.4,273.2 C63.2,269.8 74.4,265.3 67.2,260.6 M68.4,273.4 C61.3,270.0 72.4,265.5 65.2,260.8 M77.9,272.5 C70.7,269.1 81.9,264.6 74.7,259.9 M75.9,272.7 C68.7,269.3 79.9,264.8 72.7,260.1 M85.5,271.9 C78.4,268.3 89.7,264.1 82.7,259.2 M83.5,272.0 C76.4,268.4 87.7,264.3 80.7,259.3 M93.0,271.7 C86.1,267.9 97.5,264.1 90.7,259.0 M91.0,271.8 C84.1,268.0 95.5,264.2 88.7,259.1 M100.5,271.5 C93.6,267.7 104.9,263.9 98.1,258.8 M98.5,271.6 C91.6,267.8 102.9,263.9 96.1,258.9 M108.0,271.2 C101.0,267.5 112.4,263.5 105.5,258.5 M106.0,271.3 C99.0,267.6 110.4,263.6 103.5,258.6 M115.5,271.0 C108.7,267.0 120.2,263.5 113.5,258.2 M113.5,271.0 C106.7,267.0 118.2,263.5 111.5,258.2 M175.5,273.1 C168.9,268.8 180.5,265.8 174.1,260.2 M173.5,273.0 C166.9,268.7 178.5,265.7 172.1,260.1 M183.0,273.5 C176.5,269.1 188.1,266.3 181.7,260.6 M181.0,273.4 C174.5,269.0 186.1,266.1 179.7,260.5 M190.6,273.9 C184.0,269.5 195.8,266.8 189.4,261.0 M188.6,273.8 C182.0,269.3 193.8,266.6 187.4,260.9 M198.1,274.6 C191.6,270.0 203.4,267.5 197.2,261.7 M196.1,274.4 C189.7,269.9 201.4,267.3 195.2,261.5 M205.6,275.3 C199.3,270.6 211.1,268.3 205.0,262.3 M203.6,275.1 C197.3,270.4 209.1,268.1 203.0,262.1 M213.2,276.3 C206.9,271.4 218.8,269.4 212.8,263.3 M211.2,276.0 C205.0,271.2 216.8,269.2 210.9,263.1 M220.7,277.3 C214.5,272.3 226.4,270.5 220.6,264.3 M218.7,277.0 C212.6,272.0 224.4,270.2 218.6,264.0 M228.2,278.5 C222.2,273.5 234.1,271.9 228.3,265.6 M226.2,278.2 C220.2,273.2 232.1,271.6 226.3,265.3 M235.7,279.8 C229.7,274.7 241.6,273.1 235.8,266.8 M233.7,279.4 C227.7,274.4 239.6,272.8 233.9,266.5 M243.2,281.1 C237.2,276.0 249.1,274.5 243.4,268.1 M241.2,280.7 C235.2,275.6 247.1,274.1 241.4,267.8 M250.7,282.3 C244.7,277.3 256.6,275.8 250.9,269.4 M248.7,282.0 C242.7,276.9 254.6,275.4 248.9,269.1" fill="none" stroke="#cad7cd" stroke-width="1.25" stroke-linejoin="round"/>
<g fill="#b9cbbd"><circle cx="10.1" cy="249.3" r="3.1"/><circle cx="18.0" cy="247.9" r="3.1"/><circle cx="25.8" cy="246.5" r="3.1"/><circle cx="33.7" cy="245.5" r="3.1"/><circle cx="41.6" cy="244.4" r="3.1"/><circle cx="49.5" cy="243.5" r="3.1"/><circle cx="57.3" cy="242.5" r="3.1"/><circle cx="65.2" cy="241.9" r="3.1"/><circle cx="73.1" cy="241.3" r="3.1"/><circle cx="81.0" cy="240.9" r="3.1"/><circle cx="88.8" cy="240.4" r="3.1"/><circle cx="96.7" cy="240.1" r="3.1"/><circle cx="104.6" cy="239.8" r="3.1"/><circle cx="112.5" cy="239.8" r="3.1"/><circle cx="175.5" cy="241.0" r="3.1"/><circle cx="183.3" cy="241.6" r="3.1"/><circle cx="191.2" cy="242.3" r="3.1"/><circle cx="199.1" cy="243.1" r="3.1"/><circle cx="207.0" cy="244.0" r="3.1"/><circle cx="214.8" cy="245.0" r="3.1"/><circle cx="222.7" cy="246.2" r="3.1"/><circle cx="230.6" cy="247.5" r="3.1"/><circle cx="238.5" cy="248.8" r="3.1"/><circle cx="246.3" cy="250.1" r="3.1"/><circle cx="254.2" cy="251.4" r="3.1"/><circle cx="16.5" cy="282.4" r="3.1"/><circle cx="24.0" cy="281.3" r="3.1"/><circle cx="31.5" cy="280.3" r="3.1"/><circle cx="38.9" cy="279.5" r="3.1"/><circle cx="46.4" cy="278.7" r="3.1"/><circle cx="53.9" cy="277.7" r="3.1"/><circle cx="61.4" cy="277.0" r="3.1"/><circle cx="68.9" cy="276.3" r="3.1"/><circle cx="76.3" cy="275.6" r="3.1"/><circle cx="83.8" cy="275.0" r="3.1"/><circle cx="91.3" cy="274.8" r="3.1"/><circle cx="98.8" cy="274.6" r="3.1"/><circle cx="106.3" cy="274.3" r="3.1"/><circle cx="113.7" cy="274.0" r="3.1"/><circle cx="173.6" cy="276.0" r="3.1"/><circle cx="181.1" cy="276.4" r="3.1"/><circle cx="188.6" cy="276.8" r="3.1"/><circle cx="196.0" cy="277.4" r="3.1"/><circle cx="203.5" cy="278.1" r="3.1"/><circle cx="211.0" cy="279.0" r="3.1"/><circle cx="218.5" cy="280.0" r="3.1"/><circle cx="226.0" cy="281.2" r="3.1"/><circle cx="233.4" cy="282.4" r="3.1"/><circle cx="240.9" cy="283.7" r="3.1"/><circle cx="248.4" cy="285.0" r="3.1"/></g>
<path d="M156,222.5 C162,221 168,225 174,225.5 C176,230 172,236 169,240" fill="none" stroke="#dfb99f" stroke-width="1"/>
<path d="M140.5,234 C141,228 151,227 152.2,235" fill="none" stroke="#dfb99f" stroke-width="1"/>
<path d="M124,276 C126,292 140,294 143,283" fill="none" stroke="#dfb99f" stroke-width="1"/>
<path d="M152,264 L152,296" fill="none" stroke="#dfb99f" stroke-width="1"/>
<path d="M158,280 C160,292 170,286 166,270" fill="none" stroke="#dfb99f" stroke-width="1"/>
<g transform="translate(152.2,235.6) rotate(1.8)"><path d="M-4.35,0 L-4.35,28.5 A4.35,2.44 0 0 0 4.35,28.5 L4.35,0 Z" fill="url(#cg)"/><ellipse cx="0" cy="0" rx="4.35" ry="2.44" fill="#45a9c9"/><ellipse cx="-0.8" cy="0" rx="2.17" ry="1.22" fill="#7cc6de"/></g>
<g transform="translate(140.5,234.6) rotate(5.8)"><path d="M-4.35,0 L-4.35,19.8 A4.35,2.44 0 0 0 4.35,19.8 L4.35,0 Z" fill="url(#cg)"/><ellipse cx="0" cy="0" rx="4.35" ry="2.44" fill="#45a9c9"/><ellipse cx="-0.8" cy="0" rx="2.17" ry="1.22" fill="#7cc6de"/></g>
<ellipse cx="141" cy="253" rx="10" ry="9" fill="url(#og)"/>
<g transform="translate(120.8,234.6) rotate(-22.9)"><path d="M-4.35,0 L-4.35,20.3 A4.35,2.44 0 0 0 4.35,20.3 L4.35,0 Z" fill="url(#cg)"/><ellipse cx="0" cy="0" rx="4.35" ry="2.44" fill="#45a9c9"/><ellipse cx="-0.8" cy="0" rx="2.17" ry="1.22" fill="#7cc6de"/></g>
<g transform="translate(126.7,253.3) rotate(7.3)"><path d="M-4.35,0 L-4.35,22.8 A4.35,2.44 0 0 0 4.35,22.8 L4.35,0 Z" fill="url(#cg)"/><ellipse cx="0" cy="0" rx="4.35" ry="2.44" fill="#45a9c9"/><ellipse cx="-0.8" cy="0" rx="2.17" ry="1.22" fill="#7cc6de"/></g>
<g transform="translate(169.0,240.5) rotate(26.9)"><path d="M-4.35,0 L-4.35,17.7 A4.35,2.44 0 0 0 4.35,17.7 L4.35,0 Z" fill="url(#cg)"/><ellipse cx="0" cy="0" rx="4.35" ry="2.44" fill="#45a9c9"/><ellipse cx="-0.8" cy="0" rx="2.17" ry="1.22" fill="#7cc6de"/></g>
<g transform="translate(158.1,257.2) rotate(-0.0)"><path d="M-4.35,0 L-4.35,22.6 A4.35,2.44 0 0 0 4.35,22.6 L4.35,0 Z" fill="url(#cg)"/><ellipse cx="0" cy="0" rx="4.35" ry="2.44" fill="#45a9c9"/><ellipse cx="-0.8" cy="0" rx="2.17" ry="1.22" fill="#7cc6de"/></g>
<g transform="translate(137.5,253.3) rotate(-11.3)"><path d="M-4.35,0 L-4.35,30.1 A4.35,2.44 0 0 0 4.35,30.1 L4.35,0 Z" fill="url(#cg)"/><ellipse cx="0" cy="0" rx="4.35" ry="2.44" fill="#45a9c9"/><ellipse cx="-0.8" cy="0" rx="2.17" ry="1.22" fill="#7cc6de"/></g>
<g transform="translate(66.4,282.5) rotate(-12)"><ellipse cx="0" cy="0" rx="11.6" ry="9.8" fill="#e8262a"/><ellipse cx="1.6" cy="-0.6" rx="8.1" ry="6.9" fill="#f26b22" filter="url(#bl)"/></g>
<text x="63.8" y="285.1" font-size="13.0" font-style="normal" fill="#fff">γ</text>
<g transform="translate(76.4,302) rotate(-22)"><ellipse cx="0" cy="0" rx="17.9" ry="13.4" fill="#e8262a"/><ellipse cx="2.5" cy="-0.8" rx="12.5" ry="9.4" fill="#f26b22" filter="url(#bl)"/></g>
<text x="72.7" y="306.7" font-size="16.0" font-style="normal" fill="#fff">β</text>
<g fill="#e11f26"><circle cx="87" cy="318.2" r="1.6"/><circle cx="92.3" cy="318.6" r="1"/><circle cx="92.5" cy="314" r="0.8"/><circle cx="97" cy="309" r="1"/></g>
<circle cx="119" cy="339" r="26" fill="url(#glow)"/>
<circle cx="118.6" cy="338.6" r="15.5" fill="#a3192c"/>
<circle cx="121" cy="336.5" r="13" fill="url(#rg)"/>
<text x="117.8" y="340.2" font-size="15.0" font-style="normal" fill="#fff">α</text>
<path d="M10.5,304.9 L13.2,298.3 L16.6,300.4 C25,295.2 37,292.4 50,292.0 L50,298.8 C38,298.6 27,300.6 19.6,304.3 L21.6,306.8 Z" fill="url(#f3)"/>
<path d="M50.4,402.4 L49.6,389.2 L54.6,391.4 C62,375.5 73,360.5 87,350.5 L94.6,359.6 C80.5,368.5 70.5,382 60.6,395.4 L63.9,397.8 Z" fill="url(#f4)"/>
<path d="M15.4,182.9 C16.2,181.0 17.8,180.6 19.4,180.6 C22.2,180.6 23.6,182.1 23.6,184.1 C23.6,186.2 21.6,187.5 18.4,187.5 C22.4,187.5 24.1,189.1 24.1,191.3 C24.1,193.6 22.0,195.2 19.0,195.2 C17.0,195.2 15.4,194.6 14.6,193.3" fill="none" stroke="#231f20" stroke-width="3.3"/>
<text x="36.5" y="186.8" font-size="10.7" fill="#217a7c" font-weight="normal" font-style="normal" text-anchor="start" textLength="224" lengthAdjust="spacingAndGlyphs" stroke="#217a7c" stroke-width="0.25">Proteina G activată este clivată. Subunitatea α</text>
<text x="36.5" y="198.7" font-size="10.7" fill="#217a7c" font-weight="normal" font-style="normal" text-anchor="start" textLength="204.5" lengthAdjust="spacingAndGlyphs" stroke="#217a7c" stroke-width="0.25">liberă se activează și declanșează un șir de</text>
<text x="36.5" y="210.9" font-size="10.7" fill="#217a7c" font-weight="normal" font-style="normal" text-anchor="start" textLength="207.7" lengthAdjust="spacingAndGlyphs" stroke="#217a7c" stroke-width="0.25">reacții care alterează metabolismul celulei.</text>
<path d="M333.0,261.0 C340.5,263.5 330.0,269.3 337.7,273.1 M334.9,260.6 C342.4,263.0 331.9,268.9 339.6,272.7 M340.8,259.3 C348.2,262.0 337.5,267.5 345.1,271.5 M342.8,258.9 C350.2,261.6 339.5,267.1 347.1,271.1 M348.6,258.0 C356.0,260.9 345.2,266.2 352.7,270.3 M350.6,257.7 C358.0,260.5 347.2,265.9 354.7,270.0 M356.5,256.6 C363.8,259.6 352.8,264.7 360.2,269.0 M358.5,256.3 C365.7,259.4 354.8,264.4 362.2,268.7 M419.6,250.0 C426.7,253.4 415.5,257.9 422.6,262.6 M421.6,249.8 C428.7,253.3 417.5,257.7 424.6,262.4 M427.4,249.5 C434.4,253.2 423.1,257.2 430.1,262.2 M429.4,249.4 C436.4,253.1 425.1,257.1 432.1,262.1 M435.3,249.1 C442.2,252.9 430.8,256.7 437.7,261.8 M437.3,249.0 C444.2,252.8 432.8,256.7 439.7,261.8 M443.1,249.0 C449.9,253.0 438.4,256.5 445.1,261.8 M445.1,249.0 C451.9,253.0 440.4,256.5 447.1,261.8 M451.0,249.0 C457.8,253.0 446.3,256.5 453.0,261.8 M453.0,249.0 C459.8,253.0 448.3,256.5 455.0,261.8 M458.9,249.0 C465.6,253.1 454.1,256.4 460.7,261.8 M460.9,249.0 C467.6,253.1 456.1,256.4 462.7,261.8 M466.8,249.2 C473.4,253.5 461.8,256.5 468.3,262.1 M468.8,249.3 C475.4,253.5 463.8,256.6 470.3,262.2 M474.7,249.5 C481.3,253.8 469.7,256.8 476.1,262.4 M476.7,249.6 C483.3,253.9 471.7,256.9 478.1,262.5 M482.6,249.8 C489.2,254.1 477.5,257.1 484.0,262.7 M484.6,249.9 C491.2,254.2 479.5,257.2 486.0,262.8 M490.4,250.2 C497.0,254.6 485.3,257.4 491.7,263.1 M492.4,250.3 C499.0,254.7 487.3,257.5 493.7,263.2 M498.3,250.7 C504.7,255.3 493.0,257.8 499.2,263.7 M500.3,250.9 C506.7,255.4 495.0,258.0 501.2,263.8 M506.2,251.4 C512.7,255.9 500.9,258.5 507.2,264.3 M508.2,251.5 C514.6,256.1 502.9,258.6 509.1,264.5 M514.1,252.0 C520.6,256.6 508.8,259.1 515.0,265.0 M516.1,252.2 C522.6,256.8 510.8,259.3 517.0,265.1 M522.0,252.7 C528.4,257.3 516.6,259.7 522.7,265.6 M524.0,252.9 C530.4,257.5 518.6,259.9 524.7,265.8 M529.9,253.5 C536.2,258.3 524.3,260.4 530.4,266.5 M531.8,253.8 C538.1,258.5 526.3,260.7 532.4,266.7 M537.8,254.4 C544.1,259.2 532.3,261.4 538.3,267.4 M539.8,254.7 C546.1,259.4 534.3,261.6 540.3,267.6 M545.7,255.3 C552.0,260.0 540.2,262.3 546.3,268.3 M547.7,255.5 C554.0,260.3 542.2,262.5 548.3,268.5 M553.5,256.1 C559.7,261.0 547.9,262.9 553.8,269.1 M555.5,256.4 C561.7,261.3 549.8,263.2 555.8,269.4 M561.4,257.4 C567.4,262.4 555.5,264.0 561.3,270.3 M563.4,257.7 C569.4,262.8 557.5,264.3 563.2,270.7 M569.3,258.7 C575.4,263.7 563.5,265.4 569.3,271.7 M571.3,259.0 C577.4,264.0 565.5,265.7 571.2,272.0 M577.2,259.9 C583.3,265.0 571.4,266.6 577.2,272.9 M579.2,260.3 C585.3,265.3 573.4,266.9 579.2,273.2 M585.2,261.2 C591.3,266.2 579.4,267.9 585.2,274.1 M587.1,261.5 C593.2,266.5 581.3,268.2 587.1,274.5 M341.7,287.2 C334.1,285.1 344.3,278.8 336.5,275.4 M339.8,287.7 C332.2,285.6 342.4,279.3 334.6,275.9 M349.4,285.4 C341.9,282.8 352.4,277.1 344.8,273.2 M347.4,285.8 C339.9,283.2 350.5,277.5 342.8,273.6 M356.9,284.2 C349.5,281.5 360.1,275.9 352.5,272.0 M354.9,284.5 C347.5,281.9 358.1,276.3 350.5,272.4 M364.5,282.5 C357.2,279.6 368.0,274.3 360.6,270.1 M362.6,282.8 C355.2,279.9 366.0,274.6 358.6,270.5 M425.0,277.8 C418.1,274.1 429.5,270.2 422.6,265.1 M423.0,277.9 C416.1,274.1 427.5,270.3 420.6,265.2 M432.6,277.9 C425.8,273.9 437.3,270.4 430.6,265.1 M430.6,277.9 C423.8,273.9 435.3,270.4 428.6,265.1 M440.1,277.9 C433.3,273.9 444.8,270.4 438.1,265.1 M438.1,277.9 C431.3,273.9 442.8,270.4 436.1,265.1 M447.6,277.9 C440.8,273.9 452.3,270.4 445.6,265.1 M445.6,277.9 C438.8,273.9 450.3,270.4 443.6,265.1 M455.1,277.9 C448.3,273.9 459.8,270.3 453.1,265.1 M453.1,277.9 C446.3,273.9 457.8,270.3 451.1,265.1 M462.6,277.8 C455.8,273.9 467.3,270.3 460.6,265.0 M460.6,277.8 C453.8,273.9 465.3,270.3 458.6,265.0 M470.2,277.8 C463.5,273.7 475.1,270.4 468.5,265.0 M468.2,277.8 C461.5,273.7 473.1,270.4 466.5,265.0 M477.8,278.3 C471.3,273.9 482.9,271.0 476.5,265.4 M475.8,278.2 C469.3,273.8 480.9,270.9 474.5,265.3 M485.3,278.7 C478.8,274.3 490.4,271.4 484.0,265.8 M483.3,278.6 C476.8,274.2 488.4,271.3 482.0,265.7 M492.9,279.1 C486.4,274.7 498.1,271.9 491.7,266.2 M490.9,279.0 C484.4,274.5 496.1,271.8 489.7,266.1 M500.4,279.7 C494.0,275.2 505.7,272.6 499.5,266.8 M498.4,279.6 C492.0,275.0 503.7,272.5 497.5,266.7 M507.9,280.3 C501.5,275.8 513.2,273.2 507.0,267.4 M505.9,280.2 C499.5,275.6 511.2,273.1 505.0,267.3 M515.5,281.0 C509.1,276.3 520.9,273.9 514.7,268.0 M513.5,280.8 C507.1,276.2 518.9,273.7 512.7,267.8 M523.0,281.8 C516.7,277.1 528.5,274.9 522.4,268.9 M521.1,281.6 C514.7,276.9 526.5,274.6 520.5,268.6 M530.6,282.6 C524.2,277.9 536.0,275.7 530.0,269.7 M528.6,282.4 C522.2,277.7 534.1,275.5 528.0,269.5 M538.1,283.5 C531.8,278.7 543.6,276.5 537.5,270.5 M536.1,283.2 C529.8,278.5 541.6,276.3 535.5,270.3 M545.6,284.3 C539.3,279.6 551.1,277.4 545.1,271.4 M543.6,284.1 C537.3,279.3 549.1,277.2 543.1,271.2 M553.1,285.2 C546.8,280.5 558.6,278.3 552.6,272.3 M551.1,285.0 C544.8,280.2 556.6,278.1 550.6,272.0 M560.6,286.1 C554.4,281.3 566.3,279.3 560.3,273.2 M558.7,285.9 C552.4,281.0 564.3,279.0 558.3,272.9 M568.2,287.3 C562.1,282.3 574.0,280.5 568.1,274.3 M566.2,287.0 C560.1,282.0 572.0,280.2 566.1,274.0 M575.7,288.4 C569.6,283.4 581.5,281.7 575.6,275.4 M573.7,288.1 C567.6,283.1 579.5,281.4 573.6,275.1 M583.2,289.5 C577.1,284.5 589.0,282.8 583.1,276.5 M581.2,289.2 C575.1,284.2 587.0,282.5 581.1,276.2" fill="none" stroke="#cad7cd" stroke-width="1.25" stroke-linejoin="round"/>
<g fill="#b9cbbd"><circle cx="334.1" cy="257.7" r="3.1"/><circle cx="342.0" cy="256.0" r="3.1"/><circle cx="349.9" cy="254.8" r="3.1"/><circle cx="357.8" cy="253.4" r="3.1"/><circle cx="421.2" cy="246.9" r="3.1"/><circle cx="429.1" cy="246.4" r="3.1"/><circle cx="437.0" cy="246.0" r="3.1"/><circle cx="444.9" cy="246.0" r="3.1"/><circle cx="452.8" cy="246.0" r="3.1"/><circle cx="460.8" cy="246.0" r="3.1"/><circle cx="468.7" cy="246.3" r="3.1"/><circle cx="476.6" cy="246.6" r="3.1"/><circle cx="484.5" cy="246.9" r="3.1"/><circle cx="492.4" cy="247.3" r="3.1"/><circle cx="500.3" cy="247.9" r="3.1"/><circle cx="508.2" cy="248.5" r="3.1"/><circle cx="516.2" cy="249.2" r="3.1"/><circle cx="524.1" cy="249.9" r="3.1"/><circle cx="532.0" cy="250.7" r="3.1"/><circle cx="539.9" cy="251.7" r="3.1"/><circle cx="547.8" cy="252.5" r="3.1"/><circle cx="555.7" cy="253.4" r="3.1"/><circle cx="563.7" cy="254.7" r="3.1"/><circle cx="571.6" cy="256.0" r="3.1"/><circle cx="579.5" cy="257.3" r="3.1"/><circle cx="587.4" cy="258.5" r="3.1"/><circle cx="340.7" cy="290.6" r="3.1"/><circle cx="348.2" cy="288.7" r="3.1"/><circle cx="355.7" cy="287.4" r="3.1"/><circle cx="363.2" cy="285.7" r="3.1"/><circle cx="423.3" cy="280.9" r="3.1"/><circle cx="430.8" cy="280.9" r="3.1"/><circle cx="438.3" cy="280.9" r="3.1"/><circle cx="445.8" cy="280.9" r="3.1"/><circle cx="453.3" cy="280.9" r="3.1"/><circle cx="460.9" cy="280.8" r="3.1"/><circle cx="468.4" cy="280.8" r="3.1"/><circle cx="475.9" cy="281.2" r="3.1"/><circle cx="483.4" cy="281.6" r="3.1"/><circle cx="490.9" cy="282.0" r="3.1"/><circle cx="498.4" cy="282.6" r="3.1"/><circle cx="505.9" cy="283.2" r="3.1"/><circle cx="513.4" cy="283.8" r="3.1"/><circle cx="520.9" cy="284.6" r="3.1"/><circle cx="528.4" cy="285.4" r="3.1"/><circle cx="535.9" cy="286.2" r="3.1"/><circle cx="543.5" cy="287.1" r="3.1"/><circle cx="551.0" cy="288.0" r="3.1"/><circle cx="558.5" cy="288.9" r="3.1"/><circle cx="566.0" cy="290.0" r="3.1"/><circle cx="573.5" cy="291.1" r="3.1"/><circle cx="581.0" cy="292.2" r="3.1"/></g>
<path d="M391,223.2 C393,228 394,231 398,231.2 C405,231.5 411,234 412.5,243" fill="none" stroke="#dfb99f" stroke-width="1"/>
<path d="M385.6,241 C386,235 395,234 396,241" fill="none" stroke="#dfb99f" stroke-width="1"/>
<path d="M372,292 C374,305 392,300 392,289" fill="none" stroke="#dfb99f" stroke-width="1"/>
<path d="M399,270 C398,285 397,300 401,304 C404,306 407,306 409,306" fill="none" stroke="#dfb99f" stroke-width="1"/>
<path d="M407,284 C409,292 414,291 414,284 C414,280 413,277 412,275" fill="none" stroke="#dfb99f" stroke-width="1"/>
<g transform="translate(396.2,241.7) rotate(-2.0)"><path d="M-4.35,0 L-4.35,28.5 A4.35,2.44 0 0 0 4.35,28.5 L4.35,0 Z" fill="url(#cg)"/><ellipse cx="0" cy="0" rx="4.35" ry="2.44" fill="#45a9c9"/><ellipse cx="-0.8" cy="0" rx="2.17" ry="1.22" fill="#7cc6de"/></g>
<g transform="translate(384.4,241.7) rotate(2.5)"><path d="M-4.35,0 L-4.35,22.6 A4.35,2.44 0 0 0 4.35,22.6 L4.35,0 Z" fill="url(#cg)"/><ellipse cx="0" cy="0" rx="4.35" ry="2.44" fill="#45a9c9"/><ellipse cx="-0.8" cy="0" rx="2.17" ry="1.22" fill="#7cc6de"/></g>
<circle cx="389.2" cy="260.5" r="10.6" fill="url(#og)"/>
<g transform="translate(363.8,244.6) rotate(-30.0)"><path d="M-4.35,0 L-4.35,21.6 A4.35,2.44 0 0 0 4.35,21.6 L4.35,0 Z" fill="url(#cg)"/><ellipse cx="0" cy="0" rx="4.35" ry="2.44" fill="#45a9c9"/><ellipse cx="-0.8" cy="0" rx="2.17" ry="1.22" fill="#7cc6de"/></g>
<g transform="translate(373.6,263.3) rotate(3.9)"><path d="M-4.35,0 L-4.35,29.6 A4.35,2.44 0 0 0 4.35,29.6 L4.35,0 Z" fill="url(#cg)"/><ellipse cx="0" cy="0" rx="4.35" ry="2.44" fill="#45a9c9"/><ellipse cx="-0.8" cy="0" rx="2.17" ry="1.22" fill="#7cc6de"/></g>
<g transform="translate(412.9,245.6) rotate(18.4)"><path d="M-4.35,0 L-4.35,21.8 A4.35,2.44 0 0 0 4.35,21.8 L4.35,0 Z" fill="url(#cg)"/><ellipse cx="0" cy="0" rx="4.35" ry="2.44" fill="#45a9c9"/><ellipse cx="-0.8" cy="0" rx="2.17" ry="1.22" fill="#7cc6de"/></g>
<g transform="translate(406.0,266.3) rotate(-3.2)"><path d="M-4.35,0 L-4.35,17.7 A4.35,2.44 0 0 0 4.35,17.7 L4.35,0 Z" fill="url(#cg)"/><ellipse cx="0" cy="0" rx="4.35" ry="2.44" fill="#45a9c9"/><ellipse cx="-0.8" cy="0" rx="2.17" ry="1.22" fill="#7cc6de"/></g>
<g transform="translate(382.4,261.3) rotate(-19.5)"><path d="M-4.35,0 L-4.35,29.3 A4.35,2.44 0 0 0 4.35,29.3 L4.35,0 Z" fill="url(#cg)"/><ellipse cx="0" cy="0" rx="4.35" ry="2.44" fill="#45a9c9"/><ellipse cx="-0.8" cy="0" rx="2.17" ry="1.22" fill="#7cc6de"/></g>
<g transform="translate(463.2,290.7) rotate(25)"><ellipse cx="0" cy="0" rx="11" ry="10" fill="#e8262a"/><ellipse cx="1.5" cy="-0.6" rx="7.7" ry="7.0" fill="#f26b22" filter="url(#bl)"/></g>
<text x="462.2" y="292.6" font-size="13.0" font-style="italic" fill="#fff">γ</text>
<g transform="translate(449,306.9) rotate(38)"><ellipse cx="0" cy="0" rx="17.5" ry="13.75" fill="#e8262a"/><ellipse cx="2.5" cy="-0.8" rx="12.2" ry="9.6" fill="#f26b22" filter="url(#bl)"/></g>
<text x="447.2" y="311.8" font-size="16.0" font-style="italic" fill="#fff">β</text>
<g transform="translate(480.5,321.3) rotate(0)"><ellipse cx="0" cy="0" rx="15.8" ry="15.5" fill="#e8262a"/><ellipse cx="1.9" cy="1.6" rx="11.1" ry="10.8" fill="#f26b22" filter="url(#bl)"/></g>
<text x="478.3" y="324.9" font-size="15.0" font-style="italic" fill="#fff">α</text>
<g transform="translate(541.4,293.5) rotate(0)"><ellipse cx="0" cy="0" rx="10.4" ry="9" fill="#ed7650"/><ellipse cx="1.5" cy="-0.5" rx="7.3" ry="6.3" fill="#f18a5e" filter="url(#bl)"/></g>
<text x="539.6" y="296.6" font-size="13.0" font-style="italic" fill="#fff">γ</text>
<g transform="translate(539.5,314.3) rotate(8)"><ellipse cx="0" cy="0" rx="16" ry="12.2" fill="#ed7650"/><ellipse cx="2.2" cy="-0.7" rx="11.2" ry="8.5" fill="#f18a5e" filter="url(#bl)"/></g>
<text x="536.4" y="318.4" font-size="16.0" font-style="italic" fill="#fff">β</text>
<g transform="translate(569.3,311.8) rotate(0)"><ellipse cx="0" cy="0" rx="13.6" ry="14.7" fill="#ed7650"/><ellipse cx="1.9" cy="-0.9" rx="9.5" ry="10.3" fill="#f18a5e" filter="url(#bl)"/></g>
<text x="567.2" y="317.7" font-size="15.0" font-style="italic" fill="#fff">α</text>
<path d="M412.8,300.4 L421.8,293.2 L421.5,296.4 L432,296.4 L432,304.3 L421.8,304.3 L422.3,308.3 Z" fill="#8dc641"/>
<path d="M504.5,308.8 L514.2,302.2 L513.6,306.6 L524.8,306.8 L524.8,314.4 L513.6,314 L513.2,317.2 Z" fill="#8dc641"/>
<path d="M588.5,319.2 L600.2,314.0 L599.5,318.6 L609.5,320.5 L608,327.6 L597.8,325.6 L596.2,329.2 Z" fill="#8dc641"/>
<path d="M342.4,184.2 L333.9,197.3 L344.3,197.3 M340.7,192.2 L340.7,200.7" fill="none" stroke="#231f20" stroke-width="3.5"/>
<text x="352.4" y="189.0" font-size="10.7" fill="#217a7c" font-weight="normal" font-style="normal" text-anchor="start" textLength="224.5" lengthAdjust="spacingAndGlyphs" stroke="#217a7c" stroke-width="0.25">Legarea unei noi proteine G. Receptorul poate</text>
<text x="352.4" y="200.4" font-size="10.7" fill="#217a7c" font-weight="normal" font-style="normal" text-anchor="start" textLength="240.3" lengthAdjust="spacingAndGlyphs" stroke="#217a7c" stroke-width="0.25">activa sute de proteine G înainte ca hormonul din</text>
<text x="352.4" y="212.4" font-size="10.7" fill="#217a7c" font-weight="normal" font-style="normal" text-anchor="start" textLength="133.2" lengthAdjust="spacingAndGlyphs" stroke="#217a7c" stroke-width="0.25">afara celulei să se detașeze.</text>
<text x="453.8" y="351.9" font-size="10.7" fill="#217a7c" font-weight="normal" font-style="normal" text-anchor="start" textLength="77.9" lengthAdjust="spacingAndGlyphs" stroke="#217a7c" stroke-width="0.25">nouă proteină G</text>
</svg></body></html>
